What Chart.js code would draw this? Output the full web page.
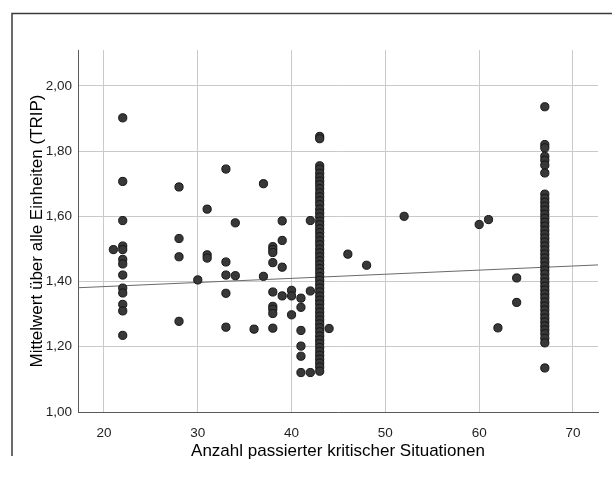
<!DOCTYPE html>
<html>
<head>
<meta charset="utf-8">
<script src="https://cdn.jsdelivr.net/npm/chart.js@4/dist/chart.umd.min.js"></script>
<style>
  html, body { margin: 0; padding: 0; background: #fff; }
  #wrap { width: 612px; height: 479px; position: relative; }
</style>
</head>
<body>
<div id="wrap"><canvas id="grafico"></canvas></div>
<script>
// Streupunkte (x = Anzahl kritischer Situationen, y = Mittelwert TRIP)
const streuX = [21,
  22, 22, 22, 22, 22, 22, 22, 22, 22, 22, 22, 22, 22,
  28, 28, 28, 28,
  30,
  31, 31, 31,
  33, 33, 33, 33, 33,
  34, 34,
  36,
  37, 37,
  38, 38, 38, 38, 38, 38, 38, 38, 38,
  39, 39, 39, 39,
  40, 40, 40,
  41, 41, 41, 41, 41, 41,
  42, 42, 42,
  44, 46, 48, 52, 60, 61, 62,
  64, 64];
const streuY = [1.498,
  1.902, 1.707, 1.587, 1.509, 1.498, 1.468, 1.454, 1.420, 1.380, 1.365, 1.330, 1.310, 1.235,
  1.690, 1.532, 1.476, 1.278,
  1.405,
  1.622, 1.482, 1.472,
  1.745, 1.460, 1.420, 1.364, 1.260,
  1.580, 1.418,
  1.254,
  1.700, 1.416,
  1.507, 1.498, 1.489, 1.458, 1.368, 1.324, 1.315, 1.302, 1.257,
  1.586, 1.526, 1.444, 1.356,
  1.373, 1.356, 1.298,
  1.349, 1.321, 1.250, 1.202, 1.171, 1.121,
  1.587, 1.371, 1.121,
  1.256, 1.484, 1.450, 1.600, 1.575, 1.590, 1.258,
  1.411, 1.336];

// dichte Säule bei x = 43
const saeule43 = [1.845, 1.838,
  1.755, 1.745, 1.732, 1.720, 1.708, 1.697, 1.685, 1.672, 1.660, 1.648, 1.636, 1.622,
  1.610, 1.598, 1.585, 1.574, 1.562, 1.550, 1.538, 1.525, 1.513, 1.500, 1.488, 1.476,
  1.464, 1.452, 1.440, 1.428, 1.415, 1.404, 1.392, 1.380, 1.368, 1.355, 1.343, 1.331,
  1.318, 1.306, 1.294, 1.282, 1.270, 1.258, 1.246, 1.233, 1.221, 1.210, 1.198, 1.186,
  1.174, 1.162, 1.150, 1.138, 1.125];

// dichte Säule bei x = 67
const saeule67 = [1.936, 1.820, 1.810, 1.784, 1.772, 1.757, 1.733,
  1.668, 1.655, 1.643, 1.631, 1.619, 1.606, 1.594, 1.582, 1.570, 1.557, 1.545, 1.533,
  1.521, 1.509, 1.496, 1.484, 1.472, 1.460, 1.447, 1.435, 1.423, 1.410, 1.398, 1.386,
  1.374, 1.362, 1.350, 1.337, 1.325, 1.313, 1.300, 1.288, 1.276, 1.264, 1.252, 1.240,
  1.226, 1.212, 1.135];

// Regressionsgerade (Endpunkte am Achsenrand)
const fitX = [17.23, 72.67];
const fitY = [1.381, 1.451];

const xTicks = [20, 30, 40, 50, 60, 70];
const yTicks = [1.0, 1.2, 1.4, 1.6, 1.8, 2.0];

const punkte = streuX.map((x, i) => ({ x: x, y: streuY[i] }))
  .concat(saeule43.map(y => ({ x: 43, y: y })))
  .concat(saeule67.map(y => ({ x: 67, y: y })));

// Rahmen wie im SPSS-Export
const rahmen = {
  id: 'rahmen',
  beforeDraw(chart) {
    const c = chart.ctx;
    c.save();
    c.fillStyle = '#fff';
    c.fillRect(0, 0, chart.width, chart.height);
    c.strokeStyle = '#3a3a3a';
    c.lineWidth = 1.5;
    c.beginPath();
    c.moveTo(12, 456);
    c.lineTo(12, 13.5);
    c.lineTo(612, 13.5);
    c.stroke();
    c.restore();
  }
};

const schrift = "'Liberation Sans', Arial, sans-serif";

new Chart(document.getElementById('grafico'), {
  type: 'scatter',
  data: {
    datasets: [
      {
        type: 'line',
        data: fitX.map((x, i) => ({ x: x, y: fitY[i] })),
        borderColor: '#6a6a6a',
        borderWidth: 1,
        pointRadius: 0,
        fill: false,
        order: 2
      },
      {
        data: punkte,
        backgroundColor: '#383838',
        borderColor: '#151515',
        borderWidth: 1,
        pointRadius: 4.1,
        order: 1
      }
    ]
  },
  options: {
    responsive: true,
    maintainAspectRatio: false,
    animation: false,
    layout: { padding: { left: 20, top: 50, right: 14, bottom: 17 } },
    plugins: {
      legend: { display: false },
      tooltip: { enabled: false }
    },
    scales: {
      x: {
        type: 'linear',
        min: 17.23,
        max: 72.67,
        afterBuildTicks: s => { s.ticks = xTicks.map(v => ({ value: v })); },
        afterFit: s => { s.height = 50; },
        grid: { color: '#c9c9c9', lineWidth: 1, drawTicks: false },
        border: { color: '#5a5a5a', width: 1 },
        ticks: {
          color: '#1e1e1e',
          padding: 13,
          font: { family: schrift, size: 13.5 },
          callback: v => String(v)
        },
        title: {
          display: true,
          text: 'Anzahl passierter kritischer Situationen',
          color: '#000',
          padding: { top: 0, bottom: 0 },
          font: { family: schrift, size: 17 }
        }
      },
      y: {
        min: 1.0,
        max: 2.11,
        afterBuildTicks: s => { s.ticks = yTicks.map(v => ({ value: v })); },
        afterFit: s => { s.width = 58; },
        grid: { color: '#c9c9c9', lineWidth: 1, drawTicks: false },
        border: { color: '#5a5a5a', width: 1 },
        ticks: {
          color: '#1e1e1e',
          padding: 6,
          font: { family: schrift, size: 13.5 },
          callback: v => v.toFixed(2).replace('.', ',')
        },
        title: {
          display: true,
          text: 'Mittelwert über alle Einheiten (TRIP)',
          color: '#000',
          padding: { top: 7, bottom: 0 },
          font: { family: schrift, size: 17 }
        }
      }
    }
  },
  plugins: [rahmen]
});
</script>
</body>
</html>
